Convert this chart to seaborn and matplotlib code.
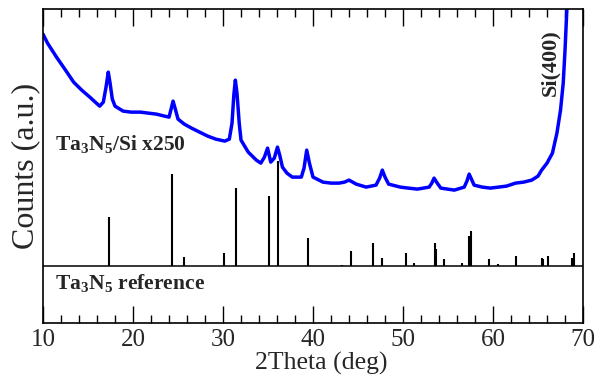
import numpy as np
import pandas as pd
import seaborn as sns
import matplotlib.pyplot as plt
from matplotlib.ticker import MultipleLocator

sns.set_theme(style="ticks")
plt.rcParams['font.family'] = ['Liberation Serif', 'DejaVu Serif']
plt.rcParams['mathtext.fontset'] = 'custom'
plt.rcParams['mathtext.rm'] = 'Liberation Serif'
plt.rcParams['mathtext.bf'] = 'Liberation Serif:bold'

# %%
# measured pattern (Ta3N5 film on Si, x250), read off the picture, arbitrary units
two_theta_meas = [10.0, 10.5, 11.0, 11.5, 12.5, 13.4, 14.3, 15.2, 15.8, 16.3,
                  16.7, 17.0, 17.25, 17.45, 17.7, 18.0, 18.9, 19.8, 20.8, 21.7,
                  22.6, 23.5, 24.0, 24.2, 24.45, 24.7, 25.0, 25.7, 26.5, 27.4,
                  28.3, 29.2, 30.2, 30.7, 31.0, 31.2, 31.37, 31.55, 31.8, 32.0,
                  32.8, 33.7, 34.2, 34.6, 34.95, 35.3, 35.7, 36.05, 36.3, 36.6,
                  37.1, 37.7, 38.7, 39.0, 39.3, 39.6, 40.0, 41.1, 42.0, 42.9,
                  43.5, 44.0, 44.8, 45.9, 47.0, 47.4, 47.7, 48.0, 48.4, 49.7,
                  50.6, 51.6, 52.9, 53.2, 53.45, 53.8, 54.2, 55.7, 56.8, 57.1,
                  57.35, 57.6, 57.9, 58.8, 59.7, 60.6, 61.5, 62.5, 63.4, 64.3,
                  65.0, 65.4, 66.0, 66.6, 67.1, 67.5, 67.8, 68.0, 68.2, 68.4]
counts_meas = [289, 280, 273, 266, 253, 241, 233, 226, 221, 217,
               221, 236, 251, 240, 224, 217, 212, 211, 211, 210,
               209, 207, 206, 213, 222, 214, 204, 199, 195, 191,
               187, 184, 182, 184, 200, 228, 243, 230, 200, 183,
               171, 163, 160, 166, 175, 161, 165, 176, 168, 156,
               150, 146, 146, 155, 173, 160, 146, 141, 140, 140,
               141, 143, 139, 136, 138, 145, 153, 146, 139, 136,
               135, 134, 136, 140, 145, 140, 135, 133, 136, 142,
               149, 144, 138, 136, 135, 136, 137, 140, 141, 143,
               147, 153, 160, 170, 190, 213, 240, 273, 313, 350]

# reference pattern peaks
ref_pos = [17.3, 24.3, 25.7, 30.1, 31.4, 35.1, 36.1, 39.4, 43.2, 44.2,
           46.7, 47.7, 50.3, 51.2, 53.5, 53.7, 54.5, 56.6, 57.3, 57.5,
           59.6, 60.5, 62.6, 65.4, 65.6, 66.1, 68.8, 69.0]
ref_int = [49, 92, 9, 13, 78, 70, 105, 28, 1, 15,
           23, 8, 13, 3, 23, 17, 7, 3, 30, 35,
           7, 2, 10, 8, 7, 10, 8, 13]
ref_base = 57

df = pd.DataFrame({'two_theta': two_theta_meas, 'counts': counts_meas})

# %%
fig, ax = plt.subplots(figsize=(6, 3.81), dpi=100)
fig.subplots_adjust(left=0.0717, right=0.9717, bottom=0.152, top=0.976)

sns.lineplot(data=df, x='two_theta', y='counts', color='blue', lw=2.5,
             estimator=None, ax=ax)
ax.axhline(ref_base, color='black', lw=1.1)
ax.vlines(ref_pos, ref_base, np.array(ref_int) + ref_base, color='black', lw=1.5)

ax.text(11.3, 173, r'Ta$_\mathbf{3}$N$_\mathbf{5}$/Si x250', fontsize=15.5,
        fontweight='bold', va='baseline')
ax.text(11.3, 34, r'Ta$_\mathbf{3}$N$_\mathbf{5}$ reference', fontsize=15.5,
        fontweight='bold', va='baseline')
ax.text(66.4, 261, 'Si(400)', fontsize=16, fontweight='bold', rotation=90,
        ha='center', va='center')

ax.set_xlim(10, 70)
ax.set_ylim(0, 314)
ax.set_yticks([])
ax.xaxis.set_major_locator(MultipleLocator(10))
ax.xaxis.set_minor_locator(MultipleLocator(2))
ax.tick_params(axis='x', which='both', direction='in', top=True, width=1,
               labelsize=18, color='black', pad=4)
ax.tick_params(axis='x', which='major', length=12)
ax.tick_params(axis='x', which='minor', length=6)
for sp in ax.spines.values():
    sp.set_linewidth(1.2)
    sp.set_color('black')
    sp.set_visible(True)
ax.set_xlabel('2Theta (deg)', fontsize=18.5)
ax.xaxis.set_label_coords(0.515, -0.093)
ax.set_ylabel('Counts (a.u.)', fontsize=23, labelpad=2)

fig.savefig('out.png', dpi=100)
